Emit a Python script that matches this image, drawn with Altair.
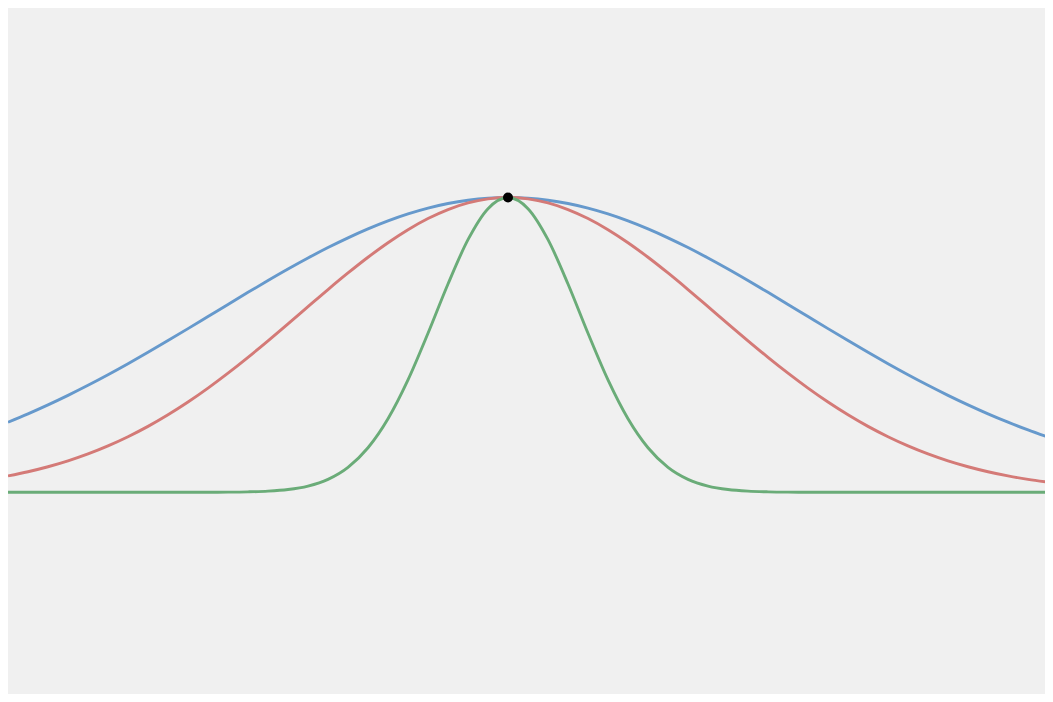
import altair as alt
import pandas as pd

# x positions (peak at 0)
x_vals = [-5.0, -4.8, -4.6, -4.4, -4.2, -4.0, -3.8, -3.6, -3.4, -3.2, -3.0, -2.8, -2.6,
          -2.4, -2.2, -2.0, -1.8, -1.6, -1.4, -1.2, -1.0, -0.8, -0.6, -0.4, -0.2, 0.0,
          0.2, 0.4, 0.6, 0.8, 1.0, 1.2, 1.4, 1.6, 1.8, 2.0, 2.2, 2.4, 2.6, 2.8, 3.0,
          3.2, 3.4, 3.6, 3.8, 4.0, 4.2, 4.4, 4.6, 4.8, 5.0, 5.2, 5.4]

# half of the symmetric curves, from the peak outwards (0.0, 0.2, ... 5.4)
blue_half = [1.0, 0.9977, 0.9908, 0.9795, 0.9639, 0.9442, 0.9206, 0.8935, 0.8632, 0.8302,
             0.7947, 0.7573, 0.7183, 0.6782, 0.6374, 0.5963, 0.5552, 0.5147, 0.4749, 0.4362,
             0.3988, 0.3630, 0.3288, 0.2965, 0.2661, 0.2378, 0.2115, 0.1872]
red_half = [1.0, 0.9954, 0.9817, 0.9592, 0.9287, 0.8909, 0.8467, 0.7973, 0.7439, 0.6877,
            0.6298, 0.5716, 0.5139, 0.4578, 0.4041, 0.3534, 0.3062, 0.2629, 0.2236, 0.1885,
            0.1574, 0.1302, 0.1067, 0.0867, 0.0698, 0.0556, 0.0439, 0.0344]
green_half = [1.0, 0.9622, 0.8570, 0.7066, 0.5394, 0.3812, 0.2494, 0.1510, 0.0846, 0.0439,
              0.0211, 0.0094, 0.0039, 0.0015, 0.0005, 0.0002, 0.0, 0.0, 0.0, 0.0,
              0.0, 0.0, 0.0, 0.0, 0.0, 0.0, 0.0, 0.0]

series_names = ["blue", "red", "green"]
series_colors = ["#6699cc", "#d47a77", "#6aac78"]
peak_x = [0.0]
peak_y = [1.0]


def full_curve(half):
    left = half[1:26][::-1]  # values for -5.0 ... -0.2
    return left + half


rows = []
for name, half in zip(series_names, [blue_half, red_half, green_half]):
    for xv, yv in zip(x_vals, full_curve(half)):
        rows.append({"x": xv, "y": yv, "series": name})
df = pd.DataFrame(rows)
peak_df = pd.DataFrame({"x": peak_x, "y": peak_y})

xs = alt.Scale(domain=[-5.0, 5.37], nice=False, zero=False)
ys = alt.Scale(domain=[-0.6842, 1.6428], nice=False, zero=False)

lines = alt.Chart(df).mark_line(
    strokeWidth=2.9, interpolate="monotone", clip=True
).encode(
    x=alt.X("x:Q", scale=xs, axis=None),
    y=alt.Y("y:Q", scale=ys, axis=None),
    color=alt.Color("series:N",
                    scale=alt.Scale(domain=series_names, range=series_colors),
                    legend=None),
    order=alt.Order("x:Q"),
)

dot = alt.Chart(peak_df).mark_circle(size=100, color="black", opacity=1).encode(
    x=alt.X("x:Q", scale=xs, axis=None),
    y=alt.Y("y:Q", scale=ys, axis=None),
)

chart = alt.layer(lines, dot).properties(
    width=1037, height=686, background="#f0f0f0", padding=0,
    autosize=alt.AutoSizeParams(type="none"),
).configure_view(stroke=None)

chart.save("out.html", embed_options={"renderer": "svg", "actions": False})
